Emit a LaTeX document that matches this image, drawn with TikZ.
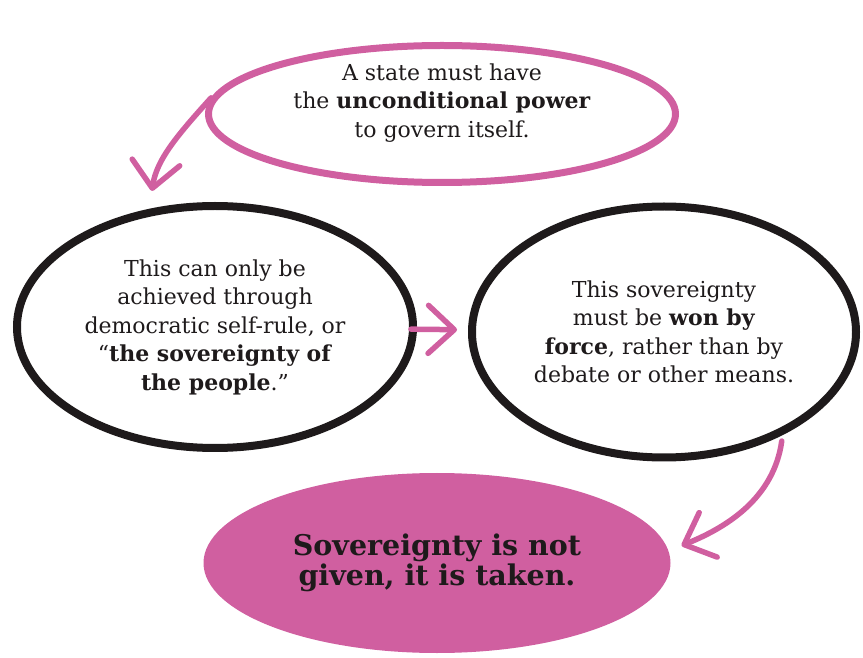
\documentclass[tikz,border=0pt]{standalone}
\usepackage{fontspec}
\setmainfont{DejaVu Serif}
\usetikzlibrary{arrows.meta,shapes.geometric}
\definecolor{sovpink}{HTML}{D05FA0}
\definecolor{inkblack}{HTML}{1E1A1B}

\begin{document}
\begin{tikzpicture}[
  x=1pt, y=1pt,
  claim/.style={ellipse, draw=inkblack, line width=8pt, inner sep=0pt, align=center, text=inkblack, font=\fontsize{22}{28.5}\selectfont},
  premise/.style={claim, draw=sovpink, line width=7pt},
  verdict/.style={ellipse, fill=sovpink, inner sep=0pt, align=center, text=inkblack, font=\bfseries\fontsize{28.5}{30}\selectfont},
  flow/.style={-{Straight Barb[length=26pt,width=48pt,round]}, line width=5.5pt, draw=sovpink, line cap=round}
]
\useasboundingbox (0,0) rectangle (863,657);
\node[premise, minimum width=467pt, minimum height=137pt, text height=60pt, text depth=13pt] (power) at (442,543)
  {A state must have\\the \textbf{unconditional power}\\to govern itself.};
\node[claim, minimum width=396pt, minimum height=242pt] (rule) at (215,330)
  {This can only be\\achieved through\\democratic self-rule, or\\``\textbf{the sovereignty of}\\\textbf{the people}.''};
\node[claim, minimum width=384pt, minimum height=251pt] (force) at (664,325)
  {This sovereignty\\must be \textbf{won by}\\\textbf{force}, rather than by\\debate or other means.};
\node[verdict, minimum width=467pt, minimum height=180pt] (taken) at (437,94)
  {Sovereignty is not\\given, it is taken.};
\draw[flow, shorten >=18pt] (power.176) to[out=228, in=82] (rule.119);
\draw[flow, shorten <=-6pt, shorten >=11pt] (rule) -- (force);
\draw[flow, shorten <=6pt, shorten >=14pt] (force.-41) to[out=262, in=22] (taken.3);
\end{tikzpicture}
\end{document}
